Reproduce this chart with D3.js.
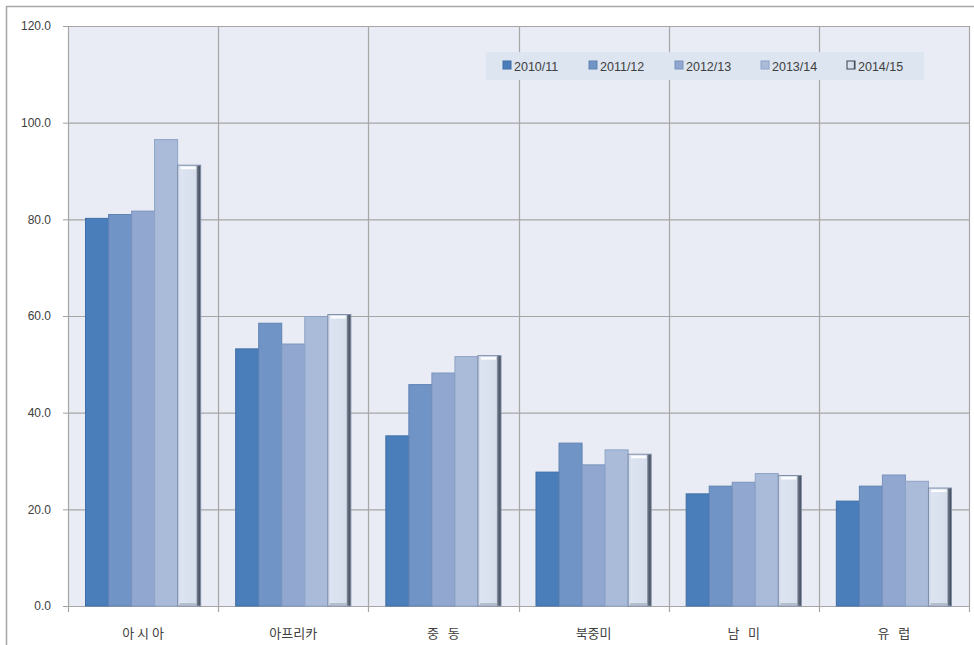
<!DOCTYPE html>
<html>
<head>
<meta charset="utf-8">
<script src="https://cdn.jsdelivr.net/npm/d3@7/dist/d3.min.js"></script>
<style>
  html, body { margin: 0; padding: 0; background: #fff; }
  svg { display: block; font-family: "Malgun Gothic", "Noto Sans CJK KR", "DejaVu Sans", sans-serif; }
</style>
</head>
<body>
<svg id="chart" width="974" height="645"></svg>
<script>
// Regions on the x axis (spacing kept as printed)
const categories = ["아 시 아", "아프리카", "중   동", "북중미", "남   미", "유   럽"];
const seriesNames = ["2010/11", "2011/12", "2012/13", "2013/14", "2014/15"];
// One array per season, values per region in the order above
const v2010 = [80.2, 53.2, 35.2, 27.7, 23.2, 21.7];
const v2011 = [81.0, 58.5, 45.8, 33.7, 24.8, 24.8];
const v2012 = [81.7, 54.2, 48.2, 29.2, 25.6, 27.1];
const v2013 = [96.5, 59.9, 51.6, 32.3, 27.4, 25.8];
const v2014 = [91.2, 60.3, 51.8, 31.4, 27.0, 24.4];
const yTicks = [0, 20, 40, 60, 80, 100, 120];

const seriesValues = [v2010, v2011, v2012, v2013, v2014];
const fills = ["#4a7ebb", "#7094c6", "#91a7cf", "#a9bbd9", "#d9e1ef"];
const strokes = ["#3f6ea6", "#5f82b3", "#7a93bd", "#8ea3c6", "#7f8fa8"];

const svg = d3.select("#chart");
const M = { left: 68, right: 969, top: 26, bottom: 606 };

// Outer chart frame
svg.append("rect").attr("x", 6.5).attr("y", 6.5).attr("width", 1000).attr("height", 700)
  .attr("fill", "#fff").attr("stroke", "#a6a6a6").attr("stroke-width", 1.5);

// Plot background
svg.append("rect").attr("x", M.left).attr("y", M.top)
  .attr("width", M.right - M.left).attr("height", M.bottom - M.top)
  .attr("fill", "#e9ecf4");

const x0 = d3.scaleBand().domain(categories).range([M.left, M.right]).paddingInner(0).paddingOuter(0);
const x1 = d3.scaleBand().domain(seriesNames).range([0, x0.bandwidth()]).paddingInner(0).paddingOuter(0.76);
const y = d3.scaleLinear().domain([0, 120]).range([M.bottom, M.top]);

const defs = svg.append("defs");
const g5 = defs.append("linearGradient").attr("id", "lastFill").attr("x1", 0).attr("x2", 1).attr("y1", 0).attr("y2", 0);
g5.append("stop").attr("offset", "0%").attr("stop-color", "#c9d3e6");
g5.append("stop").attr("offset", "12%").attr("stop-color", "#dde4f1");
g5.append("stop").attr("offset", "80%").attr("stop-color", "#d6deec");
g5.append("stop").attr("offset", "86%").attr("stop-color", "#6b7687");
g5.append("stop").attr("offset", "100%").attr("stop-color", "#3c4350");

// Horizontal gridlines with tick marks and labels
const yAxis = d3.axisLeft(y).tickValues(yTicks).tickSize(5).tickFormat(d3.format(".1f"));
const gy = svg.append("g").attr("transform", `translate(${M.left},0)`).call(yAxis);
gy.select(".domain").attr("stroke", "#a0a0a0");
gy.selectAll(".tick line").attr("stroke", "#a0a0a0");
gy.selectAll(".tick text").attr("x", -17).attr("fill", "#404040").style("font-size", "12px")
  .style("font-family", "Arial, 'Liberation Sans', sans-serif");
svg.append("g").selectAll("line").data(yTicks).join("line")
  .attr("x1", M.left).attr("x2", M.right)
  .attr("y1", d => y(d) + 0.5).attr("y2", d => y(d) + 0.5)
  .attr("stroke", "#a6a6a6").attr("stroke-width", 1.2);

// Vertical category dividers
const divX = categories.map(c => x0(c)).concat([M.right]);
svg.append("g").selectAll("line").data(divX).join("line")
  .attr("x1", d => Math.round(d) + 0.5).attr("x2", d => Math.round(d) + 0.5)
  .attr("y1", M.top).attr("y2", M.bottom + 6)
  .attr("stroke", "#a6a6a6").attr("stroke-width", 1.2);

// Bars
const groups = svg.append("g").selectAll("g").data(categories).join("g")
  .attr("transform", c => `translate(${x0(c)},0)`);

seriesNames.forEach((s, si) => {
  groups.append("rect")
    .attr("x", x1(s)).attr("width", x1.bandwidth())
    .attr("y", (c, ci) => y(seriesValues[si][ci]))
    .attr("height", (c, ci) => y(0) - y(seriesValues[si][ci]))
    .attr("fill", si === 4 ? "url(#lastFill)" : fills[si])
    .attr("stroke", strokes[si]).attr("stroke-width", 1);
  if (si === 4) {
    // bevel highlight at the top and shade at the foot of the last bar
    groups.append("rect")
      .attr("x", x1(s) + 3).attr("width", x1.bandwidth() - 8)
      .attr("y", (c, ci) => y(seriesValues[si][ci]) + 1.5)
      .attr("height", 2.5)
      .attr("fill", "#ffffff").attr("opacity", 0.9);
    groups.append("rect")
      .attr("x", x1(s) + 2).attr("width", x1.bandwidth() - 6)
      .attr("y", y(0) - 3).attr("height", 2.5)
      .attr("fill", "#aab4c4").attr("opacity", 0.8);
  }
});

// Category labels
svg.append("g").selectAll("text").data(categories).join("text")
  .attr("x", c => x0(c) + x0.bandwidth() / 2).attr("y", 638)
  .attr("text-anchor", "middle").attr("fill", "#404040")
  .style("font-size", "13px").style("white-space", "pre").attr("xml:space", "preserve")
  .text(c => c);

// Legend
const lg = svg.append("g");
lg.append("rect").attr("x", 486).attr("y", 52).attr("width", 438).attr("height", 28).attr("fill", "#dde5f0");
const legX = [503, 589, 675, 761, 847];
seriesNames.forEach((s, i) => {
  lg.append("rect").attr("x", legX[i]).attr("y", 61).attr("width", 8).attr("height", 8)
    .attr("fill", i === 4 ? "url(#lastFill)" : fills[i]).attr("stroke", i === 4 ? "#3c4350" : strokes[i]);
  lg.append("text").attr("x", legX[i] + 11).attr("y", 70.5).text(s)
    .attr("fill", "#404040").style("font-size", "12.5px")
    .style("font-family", "Arial, 'Liberation Sans', sans-serif");
});
</script>
</body>
</html>
